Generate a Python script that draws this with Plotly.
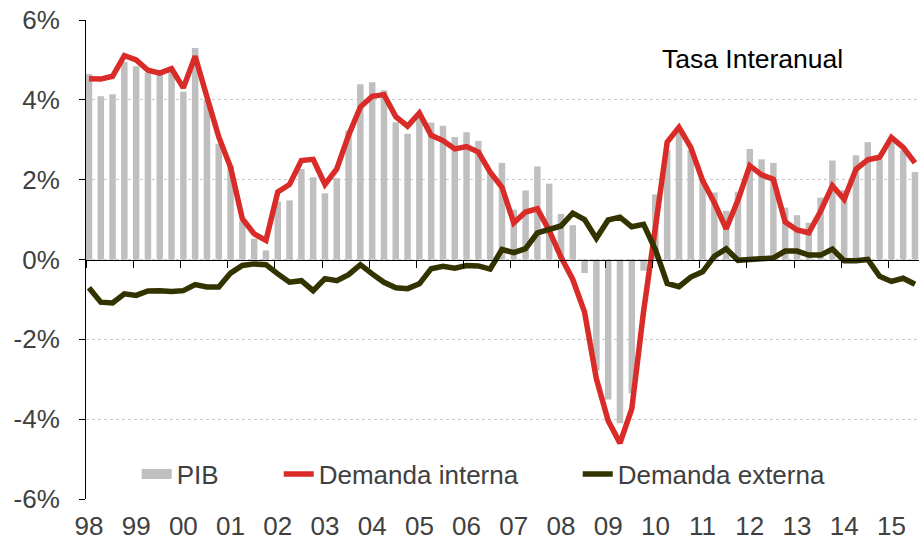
import plotly.graph_objects as go

# Quarterly data, 1998Q1 .. 2015Q3 (71 quarters)
years = ["98", "99", "00", "01", "02", "03", "04", "05", "06", "07", "08",
         "09", "10", "11", "12", "13", "14", "15"]

pib = [4.65, 4.09, 4.14, 4.95, 4.84, 4.68, 4.64, 4.75, 4.20, 5.30, 4.00, 2.90,
       2.35, 0.96, 0.52, 0.23, 1.45, 1.48, 2.27, 2.06, 1.66, 2.04, 3.23, 4.39,
       4.44, 4.24, 3.44, 3.15, 3.60, 3.43, 3.35, 3.07, 3.19, 2.97, 2.19, 2.42,
       1.25, 1.73, 2.33, 1.90, 1.14, 0.86, -0.34, -2.78, -3.51, -4.10, -3.35, -0.28,
       1.63, 2.73, 3.19, 2.75, 2.00, 1.68, 1.22, 1.70, 2.77, 2.51, 2.42, 1.30,
       1.11, 0.92, 1.55, 2.48, 1.74, 2.61, 2.94, 2.50, 2.95, 2.74, 2.19]

demanda_interna = [4.53, 4.52, 4.59, 5.11, 5.00, 4.74, 4.67, 4.78, 4.30, 5.09, 4.07, 3.07,
                   2.31, 1.02, 0.64, 0.48, 1.69, 1.88, 2.48, 2.51, 1.88, 2.27, 3.11, 3.82,
                   4.09, 4.13, 3.58, 3.34, 3.67, 3.11, 2.98, 2.77, 2.83, 2.69, 2.19, 1.81,
                   0.92, 1.19, 1.27, 0.73, 0.06, -0.50, -1.32, -2.99, -4.04, -4.60, -3.74, -1.30,
                   0.80, 2.94, 3.31, 2.81, 1.98, 1.42, 0.77, 1.49, 2.35, 2.12, 2.01, 0.94,
                   0.74, 0.67, 1.21, 1.85, 1.51, 2.26, 2.50, 2.56, 3.06, 2.81, 2.42]

demanda_externa = [-0.71, -1.07, -1.09, -0.86, -0.90, -0.79, -0.78, -0.80, -0.78, -0.63, -0.69, -0.69,
                   -0.34, -0.15, -0.11, -0.13, -0.36, -0.57, -0.53, -0.78, -0.48, -0.53, -0.38, -0.13,
                   -0.36, -0.57, -0.71, -0.73, -0.61, -0.23, -0.17, -0.22, -0.15, -0.16, -0.24, 0.25,
                   0.17, 0.27, 0.67, 0.77, 0.84, 1.16, 1.00, 0.53, 0.99, 1.06, 0.82, 0.88,
                   0.25, -0.60, -0.68, -0.44, -0.31, 0.08, 0.27, -0.02, 0.01, 0.01, 0.04, 0.21,
                   0.21, 0.11, 0.11, 0.26, -0.03, -0.03, 0.00, -0.42, -0.55, -0.47, -0.62]

y_ticks = [-6, -4, -2, 0, 2, 4, 6]
y_labels = [f"{v}%" for v in y_ticks]

q = list(range(len(pib)))
label_pos = [4 * k for k in range(len(years))]
tick_pos = [4 * k - 0.25 for k in range(len(years))]

FONT = "Liberation Sans, Arial, sans-serif"
GRAY_TXT = "#404040"

fig = go.Figure()
fig.add_trace(go.Bar(x=q, y=pib, marker=dict(color="#bfbfbf", line=dict(width=0)),
                     width=0.55, showlegend=False, name="PIB"))
# legend entry for PIB (box-like symbol)
fig.add_trace(go.Scatter(x=[None], y=[None], mode="lines", name="PIB",
                         line=dict(color="#bfbfbf", width=17), legendwidth=97))
fig.add_trace(go.Scatter(x=q, y=demanda_interna, mode="lines", name="Demanda interna",
                         line=dict(color="#d92b27", width=5.5), legendwidth=254))
fig.add_trace(go.Scatter(x=q, y=demanda_externa, mode="lines", name="Demanda externa",
                         line=dict(color="#333300", width=5.5), xaxis="x2"))

fig.update_layout(
    width=919, height=542,
    margin=dict(l=86, r=0, t=20, b=43),
    paper_bgcolor="white", plot_bgcolor="white",
    font=dict(family=FONT, size=26, color=GRAY_TXT),
    bargap=0.45,
    xaxis=dict(range=[-0.25, 70.34], tickvals=label_pos, ticktext=years,
               showgrid=False, zeroline=False, showline=False, ticks="",
               automargin=False,
               ticklabelstandoff=9, tickfont=dict(size=26, color=GRAY_TXT)),
    xaxis2=dict(matches="x", overlaying="x", anchor="free", position=0.5,
                tickvals=tick_pos, showticklabels=False, ticks="outside",
                ticklen=7, tickcolor="black", tickwidth=1,
                showline=True, linecolor="black", linewidth=1,
                showgrid=False, zeroline=False, automargin=False),
    yaxis=dict(range=[-6, 6], tickvals=y_ticks, ticktext=y_labels,
               showline=True, linecolor="black", linewidth=1,
               ticks="outside", ticklen=6, tickcolor="black",
               showgrid=True, gridcolor="#c8c8c8", griddash="dot", gridwidth=1,
               zeroline=False, ticklabelstandoff=14, automargin=False,
               tickfont=dict(size=26, color=GRAY_TXT)),
    legend=dict(orientation="h", x=0.0609, xanchor="left", y=0.052, yanchor="middle",
                bgcolor="rgba(0,0,0,0)", font=dict(size=26, color=GRAY_TXT),
                entrywidthmode="pixels", traceorder="normal"),
    annotations=[dict(text="Tasa Interanual", x=0.8007, y=0.9186, xref="paper", yref="paper",
                      xanchor="center", yanchor="middle", showarrow=False,
                      font=dict(size=26.5, color="black", family=FONT))],
)

fig.write_html(
    "out.html",
    config={"displayModeBar": False},
    post_script="document.body.style.margin='0px';document.body.style.overflow='hidden';",
)
